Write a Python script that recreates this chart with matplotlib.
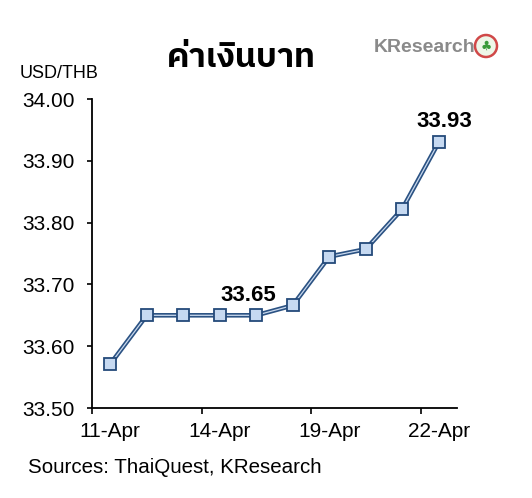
import matplotlib
matplotlib.use("Agg")
import matplotlib.pyplot as plt
from matplotlib import font_manager
from matplotlib.patches import Ellipse

dates = ["11-Apr", "12-Apr", "13-Apr", "14-Apr", "15-Apr", "18-Apr",
         "19-Apr", "20-Apr", "21-Apr", "22-Apr"]
usd_thb = [33.571, 33.65, 33.65, 33.65, 33.65, 33.666, 33.745, 33.757, 33.822, 33.93]
tick_labels = ["11-Apr", "14-Apr", "19-Apr", "22-Apr"]
yticks = [33.50, 33.60, 33.70, 33.80, 33.90, 34.00]

names = sorted({f.name for f in font_manager.fontManager.ttflist})
thai_candidates = [n for n in names if "Thai" in n]

plt.rcParams['font.family'] = ['Liberation Sans', 'DejaVu Sans']

W, H = 532, 498
fig = plt.figure(figsize=(W / 100, H / 100), dpi=100)
ax = fig.add_axes([92/W, 1 - 408/H, (457-92)/W, (408-99)/H])

x = list(range(len(dates)))
ax.plot(x, usd_thb, color="#2B5283", lw=3.3, zorder=3, solid_joinstyle='round')
ax.plot(x, usd_thb, color="#C9D9EE", lw=0.9, zorder=4)
ax.plot(x, usd_thb, ls='none', marker='s', ms=8.6, mfc="#C6D9F1", mec="#244A7A",
        mew=1.3, zorder=5)

ax.set_xlim(-0.5, len(dates) - 0.5)
ax.set_ylim(33.50, 34.00)
ax.set_yticks(yticks)
ax.set_yticklabels([f"{v:.2f}" for v in yticks], fontsize=15)
idx = [dates.index(t) for t in tick_labels]
ax.set_xticks(idx)
ax.set_xticklabels(tick_labels, fontsize=15)
ax.set_xticks([-0.5, 2.5, 5.5, 8.5], minor=True)
ax.tick_params(axis='x', which='major', length=0, pad=10)
ax.tick_params(axis='x', which='minor', length=4.5, direction='out', width=1.2)
ax.tick_params(axis='y', which='major', length=3.6, direction='out', width=1.2, pad=9)
ax.spines['top'].set_visible(False)
ax.spines['right'].set_visible(False)
for s in ('left', 'bottom'):
    ax.spines[s].set_linewidth(1.3)

ax.annotate(f"{usd_thb[4]:.2f}", (4, usd_thb[4]), xytext=(-6, 14.5), textcoords='offset points',
            ha='center', va='center', fontsize=16, fontweight='bold')
ax.annotate(f"{usd_thb[9]:.2f}", (9, usd_thb[9]), xytext=(4, 15), textcoords='offset points',
            ha='center', va='center', fontsize=16, fontweight='bold')

thai_fam = thai_candidates + ['Noto Sans', 'DejaVu Sans']
fig.text(241/W, 1 - 58/H, "ค่าเงินบาท", ha='center', va='center', fontsize=24,
         fontweight='bold', family=thai_fam)
fig.text(20/W, 1 - 73/H, "USD/THB", ha='left', va='center', fontsize=13)
fig.text(28/W, 1 - 467/H, "Sources: ThaiQuest, KResearch", ha='left', va='center', fontsize=14.8)

fig.text(374/W, 1 - 47/H, "KResearch", ha='left', va='center', fontsize=14,
         color="#8A8A8A", fontweight='bold')
fig.patches.append(Ellipse((486/W, 1 - 46/H), 22/W, 22/H, transform=fig.transFigure,
                           facecolor="#EEF6E8", edgecolor="#D04848", lw=1.8))
fig.text(486/W, 1 - 46/H, "♣", ha='center', va='center', fontsize=9, color="#3A9A3A",
         family=['DejaVu Sans'])

fig.savefig("out.png", dpi=100, facecolor='white')
